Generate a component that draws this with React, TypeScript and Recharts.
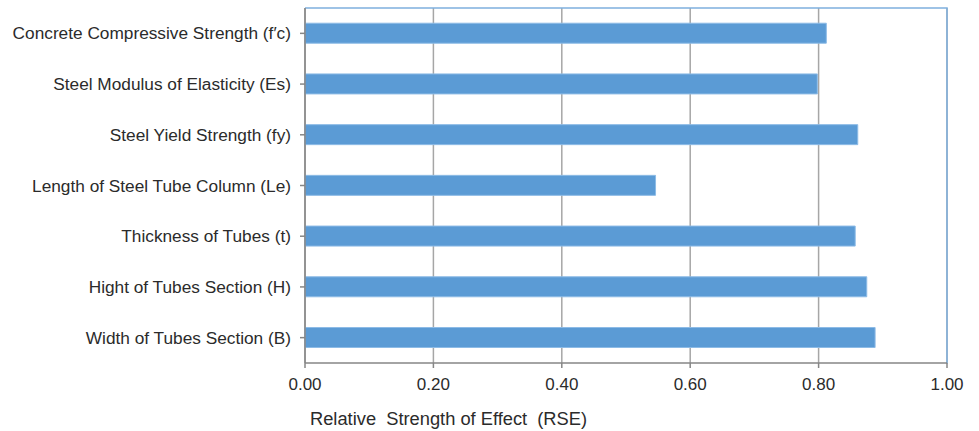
import { BarChart, Bar, XAxis, YAxis, CartesianGrid, ReferenceArea } from "recharts";

const factors = [
  "Concrete Compressive Strength (f\u2032c)",
  "Steel Modulus of Elasticity (Es)",
  "Steel Yield Strength (fy)",
  "Length of Steel Tube Column (Le)",
  "Thickness of Tubes (t)",
  "Hight of Tubes Section (H)",
  "Width of Tubes Section (B)",
];
const rse = [0.812, 0.798, 0.861, 0.546, 0.857, 0.875, 0.888];
const xTicks = [0, 0.2, 0.4, 0.6, 0.8, 1.0];

const data = factors.map((name, i) => ({ name, rse: rse[i] }));

const FONT = "'Liberation Sans', Arial, sans-serif";
const AXIS = "#868686";
const BORDER = "#7fb0de";

export default function App() {
  return (
    <div style={{ position: "absolute", left: 0, top: 0, background: "#fff" }}>
      <BarChart
        width={979}
        height={431}
        data={data}
        layout="vertical"
        margin={{ top: 8, right: 32, bottom: 0, left: 5 }}
        barCategoryGap="30%"
        style={{ fontFamily: FONT }}
      >
        <CartesianGrid horizontal={false} stroke="#a6a6a6" strokeWidth={1.5} />
        {/* top and right edges of the plot frame only */}
        <ReferenceArea
          x1={0}
          x2={1}
          fill="none"
          stroke={BORDER}
          strokeWidth={1.5}
          strokeDasharray="998 998"
          ifOverflow="visible"
        />
        <XAxis
          type="number"
          dataKey="rse"
          domain={[0, 1]}
          ticks={xTicks}
          tickFormatter={(v: number) => v.toFixed(2)}
          height={68}
          tickSize={5}
          tickMargin={10}
          stroke={AXIS}
          strokeWidth={1.5}
          tick={{ fill: "#2b2b2b", fontSize: 17 }}
          label={({ viewBox }: any) => (
            <text x={viewBox.x + 5} y={viewBox.y + 62} fill="#2b2b2b" fontSize={18.3} style={{ whiteSpace: "pre" }}>
              Relative  Strength of Effect  (RSE)
            </text>
          )}
        />
        <YAxis
          type="category"
          dataKey="name"
          width={300}
          tickSize={5}
          tickMargin={9}
          stroke={AXIS}
          strokeWidth={1.5}
          interval={0}
          tick={{ fill: "#2b2b2b", fontSize: 17.25 }}
        />
        <Bar dataKey="rse" fill="#5b9bd5" stroke="#8dbbe6" strokeWidth={1} isAnimationActive={false} />
      </BarChart>
    </div>
  );
}
